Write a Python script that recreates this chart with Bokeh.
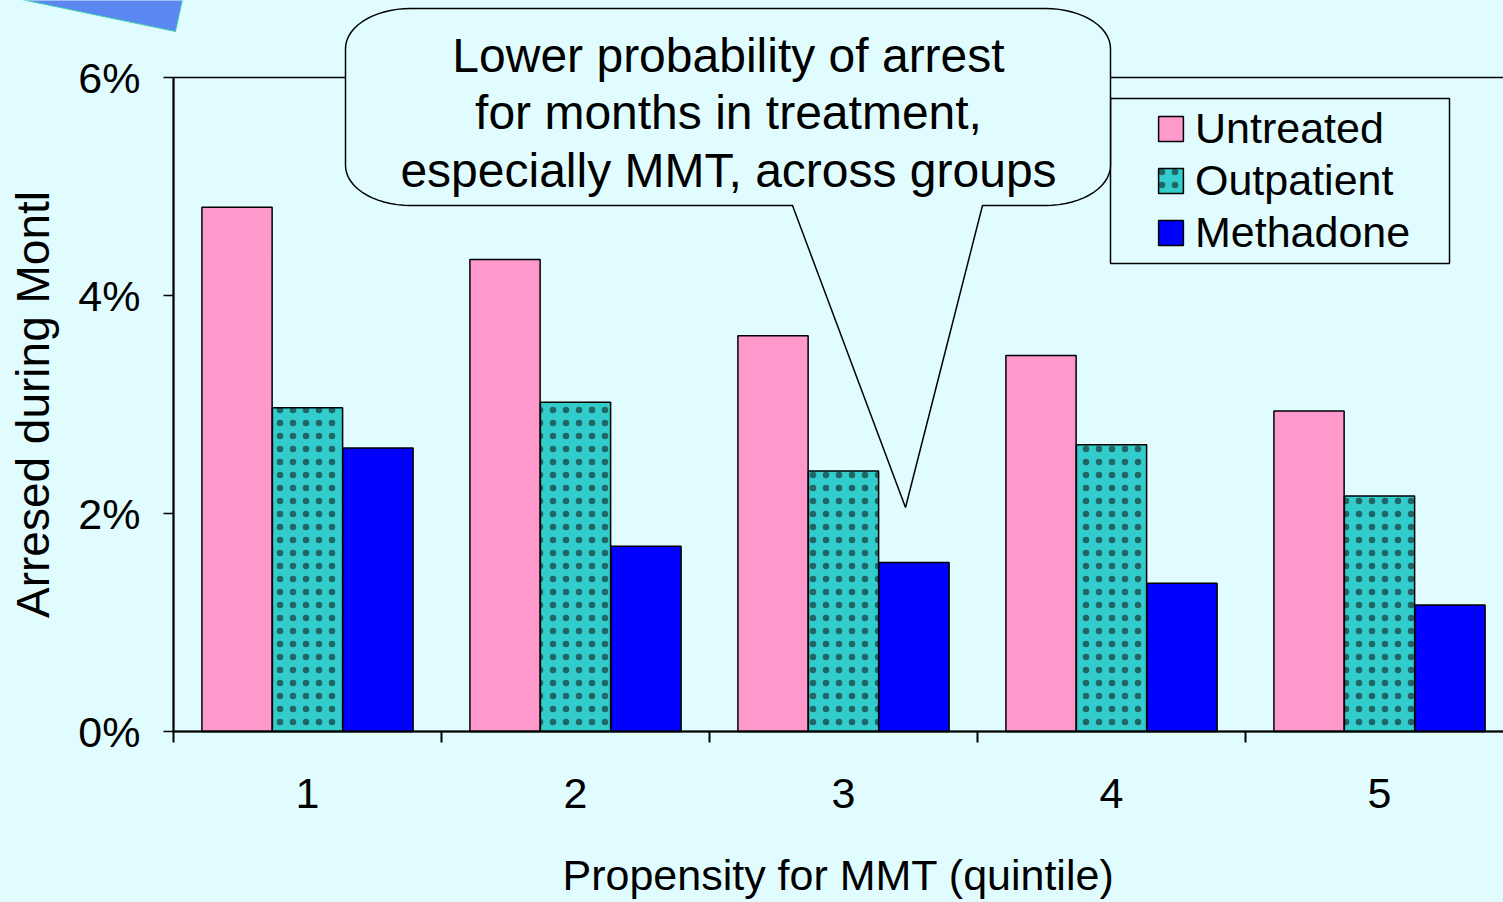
import numpy as np
from bokeh.plotting import figure
from bokeh.models import (Range1d, FixedTicker, NumeralTickFormatter, PolyAnnotation,
                          Label, BoxAnnotation)
from bokeh.embed import file_html
from bokeh.resources import INLINE

# ---------------- data ----------------
quintiles = [1, 2, 3, 4, 5]
series = ["Untreated", "Outpatient", "Methadone"]
untreated = [0.0481, 0.0433, 0.0363, 0.0345, 0.0294]
outpatient = [0.0297, 0.0302, 0.0239, 0.0263, 0.0216]
methadone = [0.0260, 0.0170, 0.0155, 0.0136, 0.0116]
y_ticks = [0.0, 0.02, 0.04, 0.06]
y_label = "Arresed during Montl"
x_label = "Propensity for MMT (quintile)"
callout_lines = ["Lower probability of arrest",
                 "for months in treatment,",
                 "especially MMT, across groups"]

# ---------------- style / layout ----------------
BG = "#E0FCFF"
FONT = "Liberation Sans"
COLORS = ["#FF99CC", "#33CCCC", "#0000FF"]
W, H = 1503, 902
AX_X, AX_TOP, AX_BOT = 173, 77, 731      # pixel positions of the axes box
UNIT = 268                               # px per quintile
YPX = (AX_BOT - AX_TOP) / (y_ticks[-1] - y_ticks[0])   # px per unit of y

x0 = quintiles[0] - 0.5
x_range = Range1d(x0 - AX_X / UNIT, x0 + (W - AX_X) / UNIT)
y_range = Range1d(y_ticks[0] - (H - AX_BOT) / YPX, y_ticks[-1] + AX_TOP / YPX)

p = figure(width=W, height=H, output_backend="svg", toolbar_location=None,
           x_range=x_range, y_range=y_range,
           min_border=0, min_border_left=0, min_border_right=0,
           min_border_top=0, min_border_bottom=0,
           background_fill_color=BG, border_fill_color=BG, outline_line_color=None)
p.grid.visible = False

def sx(x):
    return x

def sy(y):
    return H - y

# plot-area border (top edge visible; right edge lies off the page)
p.add_layout(BoxAnnotation(left=x0, right=quintiles[-1] + 0.5,
                           bottom=y_ticks[0], top=y_ticks[-1],
                           fill_alpha=0, line_color="black", line_alpha=1,
                           line_width=1.5))

# legend frame (drawn before the legend)
p.add_layout(BoxAnnotation(left=sx(1110), right=sx(1449), top=sy(98), bottom=sy(263),
                           left_units="screen", right_units="screen",
                           top_units="screen", bottom_units="screen",
                           fill_color=BG, fill_alpha=1, line_color="black",
                           line_alpha=1, line_width=1.5))

x = np.array(quintiles, dtype=float)
off = 0.263
bw = 0.262
common = dict(width=bw, line_color="black", line_width=1.5)
p.vbar(x=x - off, top=untreated, fill_color=COLORS[0], legend_label=series[0], **common)
p.vbar(x=x, top=outpatient, fill_color=COLORS[1], hatch_pattern="dot",
       hatch_color="#1A3A3A", hatch_alpha=0.7, hatch_scale=13, hatch_weight=1,
       legend_label=series[1], **common)
p.vbar(x=x + off, top=methadone, fill_color=COLORS[2], legend_label=series[2], **common)

# ---------------- axes ----------------
yax = p.yaxis[0]
yax.fixed_location = x0
yax.bounds = (y_ticks[0], y_ticks[-1])
yax.ticker = FixedTicker(ticks=y_ticks)
yax.formatter = NumeralTickFormatter(format="0%")
yax.major_tick_in = 0
yax.major_tick_out = 10
yax.major_tick_line_width = 1.5
yax.major_tick_line_color = "black"
yax.minor_tick_line_color = None
yax.axis_line_width = 2
yax.axis_line_color = "black"
yax.major_label_text_font = FONT
yax.major_label_text_font_size = "43px"
yax.major_label_text_color = "black"
yax.major_label_standoff = 23
yax.axis_label = y_label
yax.axis_label_text_font = FONT
yax.axis_label_text_font_size = "46px"
yax.axis_label_text_font_style = "normal"
yax.axis_label_text_color = "black"
yax.axis_label_standoff = 16

xax = p.xaxis[0]
xax.fixed_location = y_ticks[0]
xax.bounds = (x0, quintiles[-1] + 0.5)
xax.ticker = FixedTicker(ticks=quintiles,
                         minor_ticks=[q - 0.5 for q in quintiles] + [quintiles[-1] + 0.5])
xax.major_tick_line_color = None
xax.major_tick_in = 0
xax.major_tick_out = 11
xax.minor_tick_in = 0
xax.minor_tick_out = 11
xax.minor_tick_line_color = "black"
xax.minor_tick_line_width = 2
xax.axis_line_width = 2
xax.axis_line_color = "black"
xax.major_label_text_font = FONT
xax.major_label_text_font_size = "43px"
xax.major_label_text_color = "black"
xax.major_label_standoff = 36
xax.axis_label = x_label
xax.axis_label_text_font = FONT
xax.axis_label_text_font_size = "43px"
xax.axis_label_text_font_style = "normal"
xax.axis_label_text_color = "black"
xax.axis_label_standoff = 40

# ---------------- callout ----------------
def callout_path(x0_, y0_, x1_, y1_, rx, ry, tl, tip, tr):
    pts = []
    def arc(cx, cy, a0, a1):
        for t in np.linspace(a0, a1, 16):
            pts.append((cx + rx * np.cos(t), cy + ry * np.sin(t)))
    arc(x0_ + rx, y0_ + ry, np.pi, 1.5 * np.pi)
    arc(x1_ - rx, y0_ + ry, 1.5 * np.pi, 2 * np.pi)
    arc(x1_ - rx, y1_ - ry, 0, 0.5 * np.pi)
    pts.append((tr, y1_))
    pts.append(tip)
    pts.append((tl, y1_))
    arc(x0_ + rx, y1_ - ry, 0.5 * np.pi, np.pi)
    return [sx(a) for a, b in pts], [sy(b) for a, b in pts]

cxs, cys = callout_path(345, 8, 1110, 205, 65, 40, 792, (905, 507), 982)
p.add_layout(PolyAnnotation(xs=cxs, ys=cys, xs_units="screen", ys_units="screen",
                            fill_color=BG, fill_alpha=1, line_color="black",
                            line_alpha=1, line_width=1.5))
for txt, yy in zip(callout_lines, [55, 112, 170]):
    p.add_layout(Label(x=sx(728), y=sy(yy), x_units="screen", y_units="screen",
                       text=txt, text_align="center", text_baseline="middle",
                       text_font=FONT, text_font_size="48px", text_color="black"))

# decorative corner shape
p.add_layout(PolyAnnotation(xs=[sx(21), sx(182), sx(175)], ys=[sy(-1), sy(-1), sy(31)],
                            xs_units="screen", ys_units="screen",
                            fill_color="#5B87F0", fill_alpha=1,
                            line_color="#3FD3A8", line_alpha=1, line_width=1))

# ---------------- legend ----------------
lg = p.legend[0]
lg.location = (sx(1155), sy(258))
lg.border_line_color = None
lg.background_fill_alpha = 0
lg.padding = 0
lg.spacing = 0
lg.margin = 0
lg.glyph_width = 31
lg.glyph_height = 31
lg.label_height = 52
lg.label_standoff = 9
lg.label_text_font = FONT
lg.label_text_font_size = "43px"
lg.label_text_color = "black"

html = file_html(p, INLINE)
html = html.replace("</head>", "<style>html,body{background:%s;}</style></head>" % BG, 1)
open("out.html", "w").write(html)
